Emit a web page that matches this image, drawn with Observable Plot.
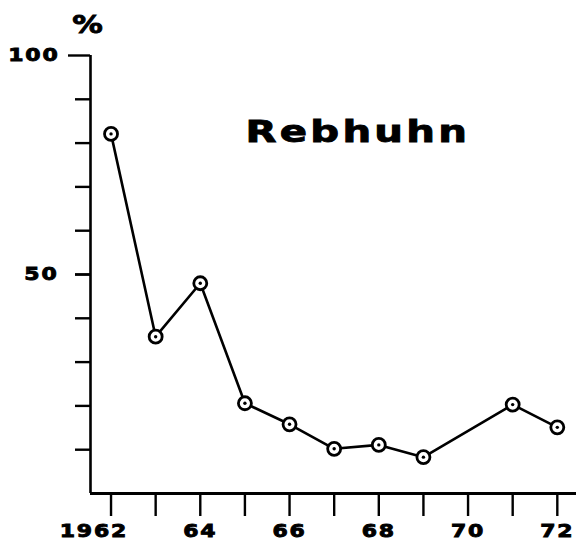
<!DOCTYPE html>
<html>
<head>
<meta charset="utf-8">
<script src="https://cdn.jsdelivr.net/npm/d3@7"></script>
<script src="https://cdn.jsdelivr.net/npm/@observablehq/plot@0.6"></script>
<style>
  html, body { margin: 0; padding: 0; background: #fff; }
  svg { display: block; }
  svg text { letter-spacing: 1.5px; stroke: #000; stroke-width: 0.9px; }
</style>
</head>
<body>
<div id="chart"></div>
<script>
const years = [1962, 1963, 1964, 1965, 1966, 1967, 1968, 1969, 1971, 1972];
const values = [82.1, 35.8, 48.0, 20.6, 15.8, 10.2, 11.1, 8.3, 20.3, 15.1];
const xTicks = [1962, 1963, 1964, 1965, 1966, 1967, 1968, 1969, 1970, 1971, 1972];
const xLabels = {1962: "1962", 1964: "64", 1966: "66", 1968: "68", 1970: "70", 1972: "72"};
const yTicks = [10, 20, 30, 40, 50, 60, 70, 80, 90];
const yLabels = {50: "50", 100: "100"};
const title = "Rebhuhn";
const unit = "%";

const data = years.map((y, i) => ({year: y, value: values[i]}));
const xDomain = [1961.54, 1972.43];
const font = "'DejaVu Sans', sans-serif";

const chart = Plot.plot({
  width: 576,
  height: 541,
  marginLeft: 90,
  marginRight: 0,
  marginTop: 55,
  marginBottom: 48,
  style: {fontFamily: font, background: "#fff", color: "#000"},
  x: {domain: xDomain, axis: null, label: null},
  y: {domain: [0, 100], axis: null, label: null},
  marks: [
    Plot.axisX({ticks: xTicks, tickSize: 23, tickPadding: 8, strokeWidth: 2.4, label: null,
      tickFormat: d => xLabels[d] ?? "", fontSize: 18, fontWeight: "bold"}),
    Plot.axisY({ticks: yTicks, tickSize: 15, strokeWidth: 2.4, label: null, tickFormat: () => ""}),
    Plot.axisY({ticks: [50], tickSize: 15, tickPadding: 17, strokeWidth: 2.4, label: null,
      tickFormat: d => yLabels[d], fontSize: 18, fontWeight: "bold"}),
    Plot.axisY({ticks: [100], tickSize: 22, tickPadding: 9, strokeWidth: 2.4, label: null,
      tickFormat: d => yLabels[d], fontSize: 18, fontWeight: "bold"}),
    Plot.ruleY([0], {strokeWidth: 3}),
    Plot.ruleX([xDomain[0]], {y1: 0, y2: 100, strokeWidth: 2.6}),
    Plot.text([unit], {frameAnchor: "top-left", dx: -2, dy: -40, fontSize: 25,
      fontWeight: "bold", textAnchor: "middle"}),
    Plot.text([title], {x: [1967.53], y: [82.6], fontSize: 31, fontWeight: "bold",
      textAnchor: "middle"}),
    Plot.line(data, {x: "year", y: "value", stroke: "#000", strokeWidth: 2.6}),
    Plot.dot(data, {x: "year", y: "value", r: 6.5, fill: "#fff", stroke: "#000", strokeWidth: 2.8}),
    Plot.dot(data, {x: "year", y: "value", r: 1.7, fill: "#000", stroke: "none"})
  ]
});
document.getElementById("chart").appendChild(chart);
// widen glyphs horizontally to mimic the extended typeface of the original
d3.select(chart).selectAll("text").each(function() {
  const el = d3.select(this);
  const txt = this.textContent;
  const sx = txt === title ? 1.3 : 1.22;
  if (txt === title) el.style("letter-spacing", "2.5px");
  let t = el.attr("transform") || "";
  if (txt === "1962") {
    // the century digits hang to the left of the tick, "62" sits under it
    const w = this.getBBox().width * sx;
    t += ` translate(${-w / 4},0)`;
  }
  el.attr("transform", (t + ` scale(${sx},1)`).trim());
});
</script>
</body>
</html>
